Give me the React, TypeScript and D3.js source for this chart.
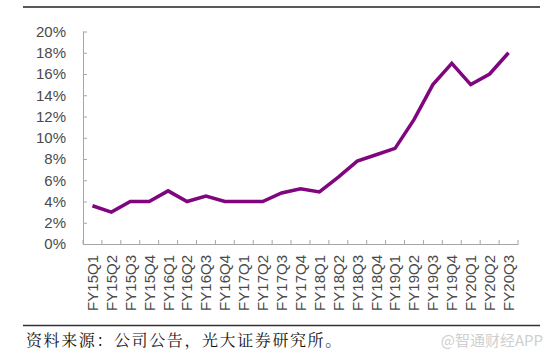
import React, { useEffect, useRef } from 'react';
import * as d3 from 'd3';

const quarters = [
  'FY15Q1', 'FY15Q2', 'FY15Q3', 'FY15Q4',
  'FY16Q1', 'FY16Q2', 'FY16Q3', 'FY16Q4',
  'FY17Q1', 'FY17Q2', 'FY17Q3', 'FY17Q4',
  'FY18Q1', 'FY18Q2', 'FY18Q3', 'FY18Q4',
  'FY19Q1', 'FY19Q2', 'FY19Q3', 'FY19Q4',
  'FY20Q1', 'FY20Q2', 'FY20Q3',
];
const share = [
  3.6, 3.0, 4.0, 4.0, 5.0, 4.0, 4.5, 4.0, 4.0, 4.0, 4.8, 5.2,
  4.9, 6.3, 7.8, 8.4, 9.0, 11.7, 15.0, 17.0, 15.0, 16.0, 18.0,
];
const yTicks = [0, 2, 4, 6, 8, 10, 12, 14, 16, 18, 20];
const sourceText = '资料来源：公司公告，光大证券研究所。';
const watermark = '@智通财经APP';

export default function App() {
  const ref = useRef<SVGSVGElement>(null);

  useEffect(() => {
    const svg = d3.select(ref.current);
    svg.selectAll('*').remove();

    const left = 83, right = 518, top = 31.5, bottom = 244;
    const axisColor = '#a6a6a6';
    const font = '"Liberation Sans", Arial, sans-serif';

    const x = d3.scaleBand().domain(quarters).range([left, right]);
    const y = d3.scaleLinear().domain([0, 20]).range([bottom, top]);

    // top and bottom rules
    svg.append('line').attr('x1', 23).attr('x2', 540).attr('y1', 7).attr('y2', 7)
      .attr('stroke', '#222').attr('stroke-width', 1.5);
    svg.append('line').attr('x1', 23).attr('x2', 540).attr('y1', 325.5).attr('y2', 325.5)
      .attr('stroke', '#333').attr('stroke-width', 1.5);

    // y axis
    const ya = svg.append('g').attr('transform', `translate(${left},0)`)
      .call(d3.axisLeft(y).tickValues(yTicks).tickSize(-4).tickPadding(17)
        .tickFormat(d => `${d}%`));
    ya.select('.domain').attr('stroke', axisColor).attr('d', `M0.5,${top}V${bottom}`);
    ya.selectAll('.tick line').attr('stroke', axisColor);
    ya.selectAll('.tick text').attr('fill', '#4a4a4a')
      .attr('font-family', font).attr('font-size', 15);

    // x axis
    const xa = svg.append('g').attr('transform', `translate(0,${bottom})`)
      .call(d3.axisBottom(x).tickSize(0).tickSizeOuter(0));
    xa.select('.domain').attr('stroke', axisColor);
    xa.selectAll('.tick line').remove();
    xa.selectAll('.tick text').remove();
    const edges = d3.range(quarters.length + 1).map(i => left + i * x.step());
    svg.append('g').selectAll('line').data(edges).enter().append('line')
      .attr('x1', d => d).attr('x2', d => d)
      .attr('y1', bottom).attr('y2', bottom - 4)
      .attr('stroke', axisColor);

    svg.append('g').selectAll('text').data(quarters).enter().append('text')
      .attr('transform', d => `translate(${(x(d) as number) + x.bandwidth() / 2},255) rotate(-90)`)
      .attr('text-anchor', 'end')
      .attr('dy', '0.36em')
      .attr('fill', '#4a4a4a')
      .attr('font-family', font)
      .attr('font-size', 15)
      .text(d => d);

    // line
    const line = d3.line<number>()
      .x((_, i) => (x(quarters[i]) as number) + x.bandwidth() / 2)
      .y(d => y(d));
    svg.append('path').datum(share)
      .attr('d', line)
      .attr('fill', 'none')
      .attr('stroke', '#7f067f')
      .attr('stroke-width', 3.5)
      .attr('stroke-linejoin', 'miter');

    // source + watermark
    svg.append('text').attr('x', 26).attr('y', 346)
      .attr('font-family', '"Noto Serif CJK SC", "Noto Sans CJK SC", serif')
      .attr('font-size', 16).attr('letter-spacing', 1.6).attr('fill', '#111')
      .text(sourceText);
    svg.append('text').attr('x', 543).attr('y', 346).attr('text-anchor', 'end')
      .attr('font-family', '"Noto Sans CJK SC", sans-serif')
      .attr('font-size', 15).attr('fill', '#cfcfcf')
      .text(watermark);
  }, []);

  return (
    <svg ref={ref} width={554} height={360}
      style={{ position: 'absolute', left: 0, top: 0, background: '#fff' }} />
  );
}
